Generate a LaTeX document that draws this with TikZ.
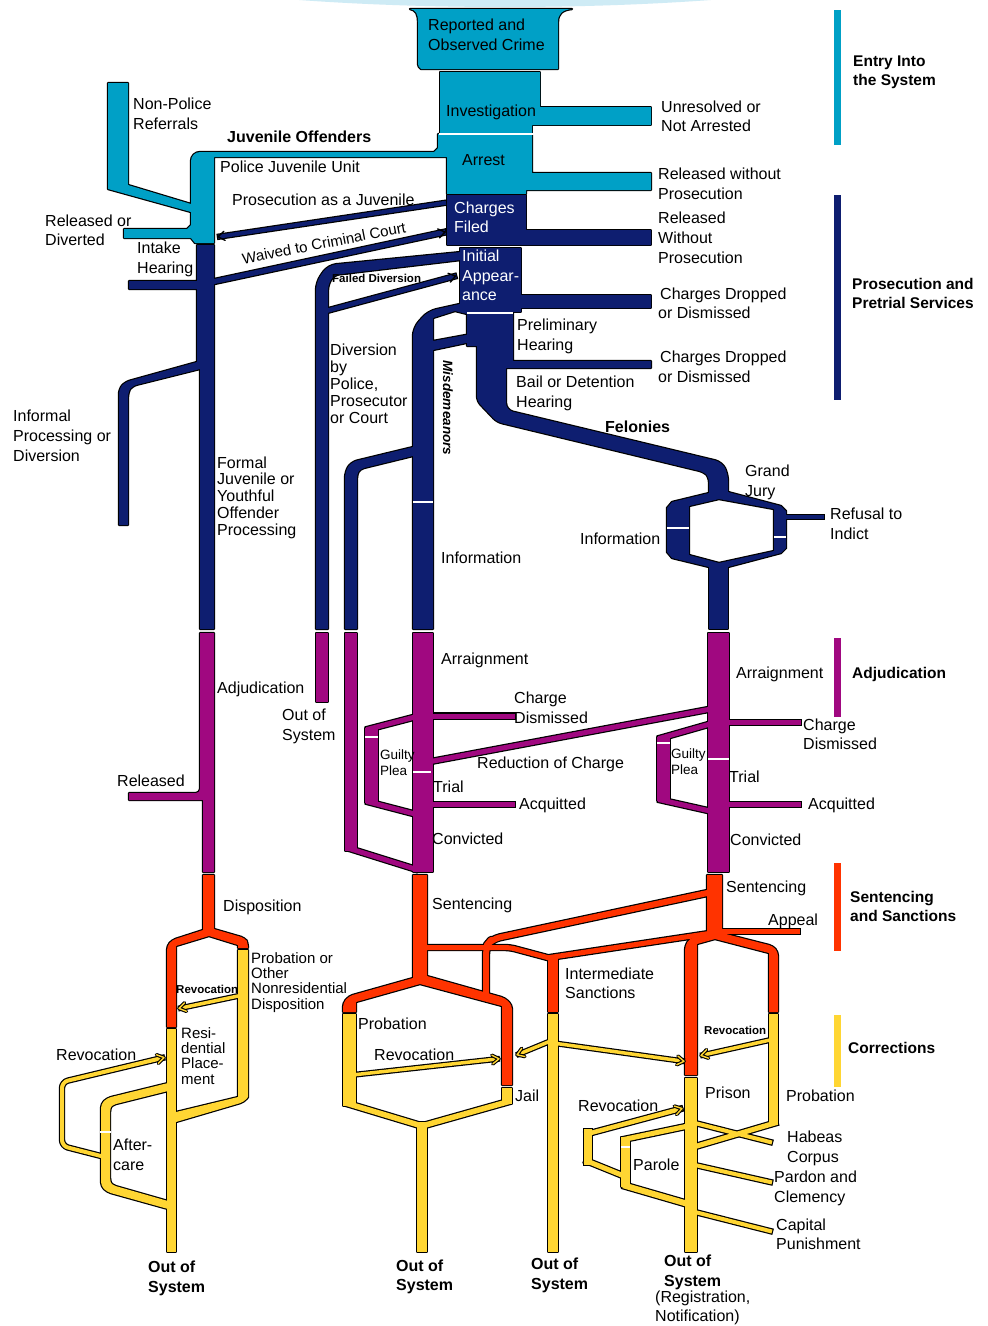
\documentclass[tikz,border=0pt]{standalone}
\usepackage{fontspec}
\setmainfont{Liberation Sans}
\usetikzlibrary{calc}
\definecolor{cblue}{RGB}{0,160,198}
\definecolor{navy}{RGB}{14,30,112}
\definecolor{purp}{RGB}{160,8,128}
\definecolor{cred}{RGB}{255,51,0}
\definecolor{yel}{RGB}{255,214,51}
\definecolor{lcy}{RGB}{206,235,245}

\newcommand\twopass[2]{%
 \begin{scope}[R/.style={draw=black,fill=black,line width=2.4pt,line join=round},
   P/.style={draw=black,line width={(##1)*1pt+2.4pt},line cap=rect,line join=round,rounded corners=5pt}]
  #2
 \end{scope}
 \begin{scope}[R/.style={fill=#1,draw=none},
   P/.style={draw=#1,line width={(##1)*1pt},line cap=rect,line join=round,rounded corners=5pt}]
  #2
 \end{scope}}

\newcommand\chevK[2]{\draw[black,line width=1.4pt,line cap=round,line join=miter] ($(#1)!8pt!35:(#2)$) -- (#1) -- ($(#1)!8pt!-35:(#2)$);}
\newcommand\chevY[2]{%
 \draw[black,line width=3.6pt,line cap=round,line join=round] ($(#1)!8pt!33:(#2)$) -- (#1) -- ($(#1)!8pt!-33:(#2)$);
 \draw[yel,line width=1.4pt,line cap=round,line join=round] ($(#1)!8pt!33:(#2)$) -- (#1) -- ($(#1)!8pt!-33:(#2)$);}

\newcommand\GBlue{%
 \path[R] (410,9) .. controls (416,10) and (418,14) .. (418,22) -- (418,62) .. controls (418,66) and (419,68) .. (421,69) -- (558,69) -- (558,22) .. controls (558,14) and (562,10) .. (572,9) -- cycle;
 \path[R] (440,72) -- (540,72) -- (540,107) -- (651,107) -- (651,125) -- (532,125) -- (532,134) -- (440,134) -- cycle;
 \path[R] (438,134) -- (532,134) -- (532,173) -- (651,173) -- (651,190) -- (526,190) -- (526,194) -- (447,194) -- (447,157) -- (214,157) -- (214,243) -- (195,243) -- (191,238) -- (124,238) -- (124,229) -- (187,229) -- (191,225) -- (191,212) -- (108,189) -- (108,83) -- (128,83) -- (128,185) -- (191,204) -- (191,166) [rounded corners=9pt] -- (191,152) -- (300,152) [sharp corners] -- (434,152) -- (438,148) -- cycle;
}

\newcommand\GNavy{%
 \path[R] (447,195) -- (526,195) -- (526,230) -- (651,230) -- (651,245) -- (447,245) -- cycle;
 \path[R] (460,248) -- (521,248) -- (521,295) -- (651,295) -- (651,308) -- (521,308) -- (521,312) -- (460,312) -- cycle;
 \path[R] (467,313) -- (513,313) -- (513,361) -- (651,361) -- (651,368) -- (506,368) [rounded corners=7pt] -- (506,410) -- (722,462) -- (728,474) [sharp corners] -- (728,496) -- (709,496) [rounded corners=5pt] -- (709,477) -- (704,472) -- (497,422) -- (477,401) [sharp corners] -- (477,346) -- (467,346) -- cycle;
 \path[R] (464,303) [rounded corners=8pt] -- (428,311) -- (413,328) [sharp corners] -- (413,629) -- (433,629) -- (433,350) -- (471,342) -- (471,334) -- (433,341) -- (433,318) -- (455,311) -- (467,314) -- (467,304) -- cycle;
 \path[R] (413,447) [rounded corners=6pt] -- (351,462) -- (345,472) [sharp corners] -- (345,629) -- (357,629) [rounded corners=4pt] -- (357,474) -- (360,469) [sharp corners] -- (413,456) -- cycle;
 \path[R] (461,252) [rounded corners=8pt] -- (328,265) -- (316,282) [sharp corners] -- (316,629) -- (328,629) [rounded corners=5pt] -- (328,285) -- (334,275) [sharp corners] -- (461,260) -- cycle;
 \path[R] (197,245) -- (214,245) -- (214,629) -- (200,629) -- (200,369) [rounded corners=5pt] -- (132,386) -- (128,392) [sharp corners] -- (128,525) -- (119,525) [rounded corners=5pt] -- (119,389) -- (125,382) [sharp corners] -- (197,362) -- (197,289) -- (129,289) -- (129,281) -- (197,281) -- cycle;
 \draw[P=4.5] (326,311) -- (454,276.5);
 \draw[P=5] (212,282) -- (443,232.5);
 \draw[P=4] (444,203) -- (220,236.5);
 \path[R,even odd rule] (709,493) -- (672,502) -- (667,508) -- (667,552) -- (672,558) -- (709,567) -- (728,567) -- (781,553) -- (786,548) -- (786,511) -- (781,506) -- (728,492) -- cycle (719,499) -- (689,506) -- (689,555) -- (719,563) -- (774,551) -- (774,509) -- cycle;
 \path[R] (709,566) rectangle (728,629);
 \draw[P=4] (784,517) -- (822,517);
}

\newcommand\GPurp{%
 \path[R] (200,633) -- (214,633) -- (214,872) -- (203,872) -- (203,800) -- (129,800) -- (129,793) [rounded corners=4pt] -- (200,793) -- (200,770) [sharp corners] -- cycle;
 \path[R] (316,633) rectangle (328,702);
 \path[R] (345,633) rectangle (357,851);
 \draw[P=5] (351,849) -- (415,869);
 \path[R] (413,633) rectangle (433,872);
 \draw[P=5] (430,716) -- (512,716);
 \draw[P=5] (415,717) -- (369,729);
 \path[R] (365,728) rectangle (378,803);
 \draw[P=5] (369,802) -- (415,814);
 \draw[P=5] (428,762) -- (711,709);
 \draw[P=5] (430,804.5) -- (512,804.5);
 \path[R] (708,633) rectangle (729,872);
 \draw[P=5] (726,722.5) -- (798,722.5);
 \draw[P=5] (710,724) -- (661,738);
 \path[R] (657,737) rectangle (670,801);
 \draw[P=5] (661,800) -- (710,811);
 \draw[P=5] (726,804.5) -- (798,804.5);
}

\newcommand\GRed{%
 \path[R] (203,875) -- (214,875) -- (214,929) [rounded corners=4pt] -- (245,938) -- (248,943) [sharp corners] -- (248,948) -- (238,948) -- (238,945) -- (209,936) -- (176,946) -- (176,1027) -- (167,1027) [rounded corners=4pt] -- (167,946) -- (172,940) [sharp corners] -- (203,930) -- cycle;
 \path[R] (413,875) -- (427,875) -- (427,976) [rounded corners=4pt] -- (505,998) -- (512,1005) [sharp corners] -- (512,1085) -- (502,1085) -- (502,1006) -- (420,984) -- (356,1002) -- (356,1012) -- (343,1012) [rounded corners=4pt] -- (343,1003) -- (349,996) [sharp corners] -- (413,978) -- cycle;
 \draw[P=5] (425,947.5) -- (510,947.5) -- (553,959);
 \path[R] (548,955) rectangle (558,1012);
 \draw[P=5] (553,957) -- (712,933);
 \draw[P=6,rounded corners=8pt] (712,892) -- (492,939) -- (486,946) -- (486,995);
 \draw[P=5] (720,931.5) -- (797,931.5);
 \path[R] (707,875) -- (722,875) -- (722,933) [rounded corners=4pt] -- (773,946) -- (778,952) [sharp corners] -- (778,1012) -- (769,1012) -- (769,953) -- (715,939) -- (697,944) -- (697,1075) -- (685,1075) [rounded corners=4pt] -- (685,946) -- (690,938) [sharp corners] -- (707,934) -- cycle;
}

\newcommand\GYel{%
 \path[R] (167,1029) rectangle (176,1252);
 \path[R] (238,950) -- (248,950) -- (248,1097) [rounded corners=4pt] -- (244,1102) [sharp corners] -- (176,1122) -- (176,1112) -- (238,1097) -- cycle;
 \draw[P=3.5] (238,996) -- (181,1008);
 \path[R] (168,1083) [rounded corners=4pt] -- (107,1098) -- (101,1104) -- (101,1186) -- (107,1192) [sharp corners] -- (168,1209) -- (168,1201) [rounded corners=4pt] -- (112,1185) -- (110,1182) -- (110,1108) -- (112,1105) [sharp corners] -- (168,1091) -- cycle;
 \draw[P=4,rounded corners=6pt] (101,1156) -- (62,1146) -- (62,1082) -- (162,1058);
 \path[R] (343,1014) rectangle (356,1106);
 \draw[P=5.5] (349,1104) -- (422,1126);
 \path[R] (502,1088) rectangle (512,1104);
 \draw[P=5.5] (507,1102) -- (422,1126);
 \path[R] (417,1122) rectangle (427,1252);
 \draw[P=3.5] (352,1075) -- (497,1059);
 \path[R] (548,1014) rectangle (558,1252);
 \draw[P=3.5] (553,1040) -- (519,1054);
 \draw[P=3.5] (553,1043) -- (682,1061);
 \path[R] (769,1014) rectangle (778,1125);
 \draw[P=5] (775,1123) -- (697,1146);
 \draw[P=3.5] (770,1040) -- (703,1055);
 \path[R] (685,1078) rectangle (697,1252);
 \draw[P=5] (688,1126) -- (626,1139);
 \path[R] (621,1137) rectangle (630,1187);
 \draw[P=6] (626,1186) -- (688,1204);
 \draw[P=8] (588,1133) -- (588,1161);
 \draw[P=4.5] (587,1134) -- (680,1109);
 \draw[P=5] (587,1161) -- (624,1176);
 \draw[P=4] (695,1123) -- (770,1142);
 \draw[P=4] (695,1165) -- (770,1182);
 \draw[P=4] (695,1212) -- (770,1231);
}

\begin{document}
\begin{tikzpicture}[x=1pt,y=-1pt,
 t/.style={font=\fontsize{16}{19}\selectfont,anchor=base west,inner sep=0pt},
 tw/.style={t,text=white},
 tb/.style={font=\bfseries\fontsize{16}{19}\selectfont,anchor=base west,inner sep=0pt},
 tl/.style={font=\bfseries\fontsize{15.5}{19}\selectfont,anchor=base west,inner sep=0pt},
 tsb/.style={font=\bfseries\fontsize{11.5}{14}\selectfont,anchor=base west,inner sep=0pt},
 tm/.style={font=\fontsize{15}{17}\selectfont,anchor=base west,inner sep=0pt},
 tg/.style={font=\fontsize{13.5}{16}\selectfont,anchor=base west,inner sep=0pt}]
\useasboundingbox (0,0) rectangle (988,1326);
\fill[white] (0,0) rectangle (988,1326);
\begin{scope}
\clip (0,0) rectangle (988,1326);
\fill[lcy] (505,-60) ellipse [x radius=462, y radius=67];
\end{scope}

\twopass{cblue}{\GBlue}
\draw[white,line width=1.6pt] (439,134) -- (541,134);
\twopass{navy}{\GNavy}
\twopass{purp}{\GPurp}
\twopass{cred}{\GRed}
\twopass{yel}{\GYel}

% white separators
\begin{scope}[white,line width=1.6pt]
\draw (467,312.7) -- (513,312.7);
\draw (413,502) -- (433,502);
\draw (667,528) -- (689,528);
\draw (774,537) -- (786,537);
\draw (365,737) -- (378,737);
\draw (413,772) -- (431,772);
\draw (657,743) -- (670,743);
\draw (708,759) -- (729,759);
\draw (100,1132) -- (111,1132);
\draw (621,1147) -- (630,1147);
\end{scope}

% arrow heads
\chevK{455.5,276}{430,283}
\chevK{445,232}{420,237.5}
\chevK{218,236.8}{240,233.5}
\chevY{179,1008.4}{200,1004}
\chevY{164,1057.5}{140,1063}
\chevY{499,1058.8}{475,1061.5}
\chevY{517,1054.8}{535,1048}
\chevY{684,1061.3}{660,1058}
\chevY{701,1055.5}{722,1050.5}
\chevY{682,1108.5}{660,1114.5}

% legend bars
\fill[cblue] (834,10) rectangle (841,145);
\fill[navy] (834,195) rectangle (841,400);
\fill[purp] (834,638) rectangle (841,717);
\fill[cred] (834,863) rectangle (841,951);
\fill[yel] (834,1015) rectangle (841,1087);

% labels
\node[t] (rep1) at (428,30.5) {Reported and};
\node[t] (rep2) at (428,50.5) {Observed Crime};
\node[t] (inv) at (446,116.5) {Investigation};
\node[t] (arr) at (462,165.5) {Arrest};
\node[t] (unr1) at (661,112.5) {Unresolved or};
\node[t] (unr2) at (661,131.5) {Not Arrested};
\node[t] (rwp1) at (658,179.5) {Released without};
\node[t] (rwp2) at (658,199.5) {Prosecution};
\node[t] (rWp1) at (658,223.5) {Released};
\node[t] (rWp2) at (658,243.5) {Without};
\node[t] (rWp3) at (658,263.5) {Prosecution};
\node[tw] (cf1) at (454,213.5) {Charges};
\node[tw] (cf2) at (454,232.5) {Filed};
\node[tw] (ia1) at (462,261.5) {Initial};
\node[tw] (ia2) at (462,281.5) {Appear-};
\node[tw] (ia3) at (462,300.5) {ance};
\node[t] (cd1) at (660,299.5) {Charges Dropped};
\node[t] (cd2) at (658,318.5) {or Dismissed};
\node[t] (ph1) at (517,330.5) {Preliminary};
\node[t] (ph2) at (517,350.5) {Hearing};
\node[t] (cd3) at (660,362.5) {Charges Dropped};
\node[t] (cd4) at (658,382.5) {or Dismissed};
\node[t] (bd1) at (516,387.5) {Bail or Detention};
\node[t] (bd2) at (516,407.5) {Hearing};
\node[tb] (fel) at (605,432.5) {Felonies};
\node[t] (gj1) at (745,476.5) {Grand};
\node[t] (gj2) at (745,496.5) {Jury};
\node[t] (ri1) at (830,519.5) {Refusal to};
\node[t] (ri2) at (830,539.5) {Indict};
\node[t] (info1) at (580,544.5) {Information};
\node[t] (info2) at (441,563.5) {Information};
\node[font=\bfseries\itshape\fontsize{13.5}{16}\selectfont,inner sep=0pt,rotate=-90] (misd) at (448,408) {Misdemeanors};
\node[tb] (juv) at (227,142.5) {Juvenile Offenders};
\node[t] (npr1) at (133,109.5) {Non-Police};
\node[t] (npr2) at (133,129.5) {Referrals};
\node[t] (pju) at (220,172.5) {Police Juvenile Unit};
\node[t] (paj) at (232,205.5) {Prosecution as a Juvenile};
\node[t] (rod1) at (45,226.5) {Released or};
\node[t] (rod2) at (45,245.5) {Diverted};
\node[t] (ih1) at (137,253.5) {Intake};
\node[t] (ih2) at (137,273.5) {Hearing};
\node[font=\fontsize{15}{18}\selectfont,inner sep=0pt,rotate=11] (wcc) at (324,243) {Waived to Criminal Court};
\node[tsb] (fd) at (332,282) {Failed Diversion};
\node[t] (dv1) at (330,355.5) {Diversion};
\node[t] (dv2) at (330,372.5) {by};
\node[t] (dv3) at (330,389.5) {Police,};
\node[t] (dv4) at (330,406.5) {Prosecutor};
\node[t] (dv5) at (330,423.5) {or Court};
\node[t] (inf1) at (13,421.5) {Informal};
\node[t] (inf2) at (13,441.5) {Processing or};
\node[t] (inf3) at (13,461.5) {Diversion};
\node[t] (fj1) at (217,468.5) {Formal};
\node[t] (fj2) at (217,484.5) {Juvenile or};
\node[t] (fj3) at (217,501.5) {Youthful};
\node[t] (fj4) at (217,518.5) {Offender};
\node[t] (fj5) at (217,535.5) {Processing};
\node[t] (adj) at (217,693.5) {Adjudication};
\node[t] (oos1) at (282,720.5) {Out of};
\node[t] (oos2) at (282,740.5) {System};
\node[t] (rel) at (117,786.5) {Released};
\node[t] (arg1) at (441,664.5) {Arraignment};
\node[t] (chd1) at (514,703.5) {Charge};
\node[t] (chd2) at (514,723.5) {Dismissed};
\node[tg] (gp1) at (380,759.5) {Guilty};
\node[tg] (gp2) at (380,775.5) {Plea};
\node[t] (roc) at (477,768.5) {Reduction of Charge};
\node[t] (tr1) at (433,792.5) {Trial};
\node[t] (acq1) at (519,809.5) {Acquitted};
\node[t] (conv1) at (432,844.5) {Convicted};
\node[t] (arg2) at (736,678.5) {Arraignment};
\node[t] (chd3) at (803,730.5) {Charge};
\node[t] (chd4) at (803,749.5) {Dismissed};
\node[tg] (gp3) at (671,758.5) {Guilty};
\node[tg] (gp4) at (671,774.5) {Plea};
\node[t] (tr2) at (729,782.5) {Trial};
\node[t] (acq2) at (808,809.5) {Acquitted};
\node[t] (conv2) at (730,845.5) {Convicted};
\node[tl] (lg1) at (853,66) {Entry Into};
\node[tl] (lg2) at (853,85) {the System};
\node[tl] (lg3) at (852,289) {Prosecution and};
\node[tl] (lg4) at (852,308) {Pretrial Services};
\node[tl] (lg5) at (852,678) {Adjudication};
\node[tl] (lg6) at (850,902) {Sentencing};
\node[tl] (lg7) at (850,921) {and Sanctions};
\node[tl] (lg8) at (848,1053) {Corrections};
\node[t] (sen1) at (726,892.5) {Sentencing};
\node[t] (sen2) at (432,909.5) {Sentencing};
\node[t] (app) at (768,925.5) {Appeal};
\node[t] (disp) at (223,911.5) {Disposition};
\node[t] (is1) at (565,979.5) {Intermediate};
\node[t] (is2) at (565,998.5) {Sanctions};
\node[tm] (pod1) at (251,963) {Probation or};
\node[tm] (pod2) at (251,978) {Other};
\node[tm] (pod3) at (251,993) {Nonresidential};
\node[tm] (pod4) at (251,1009) {Disposition};
\node[tsb] (rev1) at (176,993) {Revocation};
\node[tm] (rp1) at (181,1038) {Resi-};
\node[tm] (rp2) at (181,1053) {dential};
\node[tm] (rp3) at (181,1068) {Place-};
\node[tm] (rp4) at (181,1084) {ment};
\node[t] (rev2) at (56,1060.5) {Revocation};
\node[t] (ac1) at (113,1150.5) {After-};
\node[t] (ac2) at (113,1170.5) {care};
\node[t] (prob1) at (358,1029.5) {Probation};
\node[t] (rev3) at (374,1060.5) {Revocation};
\node[t] (jail) at (515,1101.5) {Jail};
\node[tsb] (rev4) at (704,1034) {Revocation};
\node[t] (prison) at (705,1098.5) {Prison};
\node[t] (prob2) at (786,1101.5) {Probation};
\node[t] (rev5) at (578,1111.5) {Revocation};
\node[t] (parole) at (633,1170.5) {Parole};
\node[t] (hab1) at (787,1142.5) {Habeas};
\node[t] (hab2) at (787,1162.5) {Corpus};
\node[t] (pc1) at (774,1182.5) {Pardon and};
\node[t] (pc2) at (774,1202.5) {Clemency};
\node[t] (cap1) at (776,1230.5) {Capital};
\node[t] (cap2) at (776,1249.5) {Punishment};
\node[tb] (o1a) at (148,1272.5) {Out of};
\node[tb] (o1b) at (148,1292.5) {System};
\node[tb] (o2a) at (396,1271.5) {Out of};
\node[tb] (o2b) at (396,1290.5) {System};
\node[tb] (o3a) at (531,1269.5) {Out of};
\node[tb] (o3b) at (531,1289.5) {System};
\node[tb] (o4a) at (664,1266.5) {Out of};
\node[tb] (o4b) at (664,1286.5) {System};
\node[t] (reg1) at (655,1302.5) {(Registration,};
\node[t] (reg2) at (655,1321.5) {Notification)};
\end{tikzpicture}
\end{document}
